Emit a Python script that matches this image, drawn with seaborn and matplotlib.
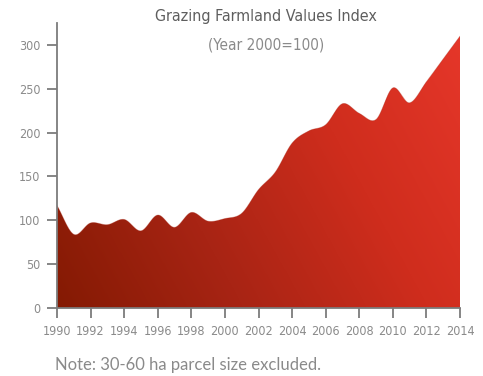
import numpy as np
import pandas as pd
import matplotlib
matplotlib.use("Agg")
import matplotlib.pyplot as plt
from matplotlib.colors import LinearSegmentedColormap
import seaborn as sns

# Grazing farmland values index (Year 2000 = 100)
years = [1990, 1991, 1992, 1993, 1994, 1995, 1996, 1997, 1998, 1999, 2000, 2001,
         2002, 2003, 2004, 2005, 2006, 2007, 2008, 2009, 2010, 2011, 2012, 2013, 2014]
index_values = [117, 84, 97, 95, 101, 88, 106, 92, 109, 99, 102, 108,
                135, 155, 188, 202, 209, 233, 222, 215, 251, 234, 258, 284, 310]
x_ticks = list(range(1990, 2015, 2))
y_ticks = [0, 50, 100, 150, 200, 250, 300]

title = "Grazing Farmland Values Index"
subtitle = "(Year 2000=100)"
note = "Note: 30-60 ha parcel size excluded."

sns.set_theme(style="ticks")
plt.rcParams["font.family"] = ["DejaVu Sans"]
plt.rcParams["font.stretch"] = "condensed"

df = pd.DataFrame({"year": years, "value": index_values})


def smooth_curve(x, y, per_seg=30):
    """Uniform Catmull-Rom spline through the data points."""
    x = np.asarray(x, float)
    y = np.asarray(y, float)
    n = len(x)
    m = np.zeros(n)
    m[1:-1] = (y[2:] - y[:-2]) / (x[2:] - x[:-2])
    m[0] = (y[1] - y[0]) / (x[1] - x[0])
    m[-1] = (y[-1] - y[-2]) / (x[-1] - x[-2])
    xs, ys = [], []
    for i in range(n - 1):
        h = x[i + 1] - x[i]
        t = np.linspace(0, 1, per_seg, endpoint=(i == n - 2))
        h00 = 2 * t**3 - 3 * t**2 + 1
        h10 = t**3 - 2 * t**2 + t
        h01 = -2 * t**3 + 3 * t**2
        h11 = t**3 - t**2
        xs.append(x[i] + t * h)
        ys.append(h00 * y[i] + h10 * h * m[i] + h01 * y[i + 1] + h11 * h * m[i + 1])
    return np.concatenate(xs), np.concatenate(ys)


sx, sy = smooth_curve(df["year"], df["value"])
smooth = pd.DataFrame({"year": sx, "value": sy})

fig = plt.figure(figsize=(4.83, 3.76), dpi=100)
ax = fig.add_axes([57 / 483, 68 / 376, 403 / 483, 285 / 376])

ymax = 325
ax.set_xlim(1990, 2014)
ax.set_ylim(0, ymax)

# Area under the curve, filled with a diagonal red gradient
area = ax.fill_between(smooth["year"], 0, smooth["value"], facecolor="none",
                       edgecolor="none")
cmap = LinearSegmentedColormap.from_list(
    "farm_red", ["#841a03", "#a82414", "#cf2d1d", "#e6372a"])
u, v = np.meshgrid(np.linspace(0, 1, 400), np.linspace(0, 1, 300))
grad = 0.72 * u + 0.28 * v
img = ax.imshow(grad, cmap=cmap, origin="lower", aspect="auto",
                extent=[1990, 2014, 0, ymax], interpolation="bilinear",
                vmin=0, vmax=1, zorder=1)
clip = area.get_paths()[0]
img.set_clip_path(clip, transform=ax.transData)

sns.lineplot(data=smooth, x="year", y="value", ax=ax, color="#a82414",
             linewidth=0.6, alpha=0.35, zorder=2, legend=False)

ax.set_xticks(x_ticks)
ax.set_yticks(y_ticks)
ax.set_xlabel("")
ax.set_ylabel("")
ax.tick_params(axis="both", colors="#7c7c7c", labelcolor="#8a8a8a",
               length=7, width=1.3, labelsize=9, pad=5)
for side in ("top", "right"):
    ax.spines[side].set_visible(False)
for side in ("left", "bottom"):
    ax.spines[side].set_color("#7c7c7c")
    ax.spines[side].set_linewidth(1.3)

fig.text(266 / 483, 1 - 17 / 376, title, ha="center", va="center",
         fontsize=11.5, color="#5e5e5e")
fig.text(266 / 483, 1 - 45 / 376, subtitle, ha="center", va="center",
         fontsize=11, color="#8a8a8a")
fig.text(55 / 483, 1 - 365 / 376, note, ha="left", va="center",
         fontsize=12, color="#8a8a8a", family=["Lato", "DejaVu Sans"],
         fontstretch="normal")

fig.savefig("out.png", dpi=100)
